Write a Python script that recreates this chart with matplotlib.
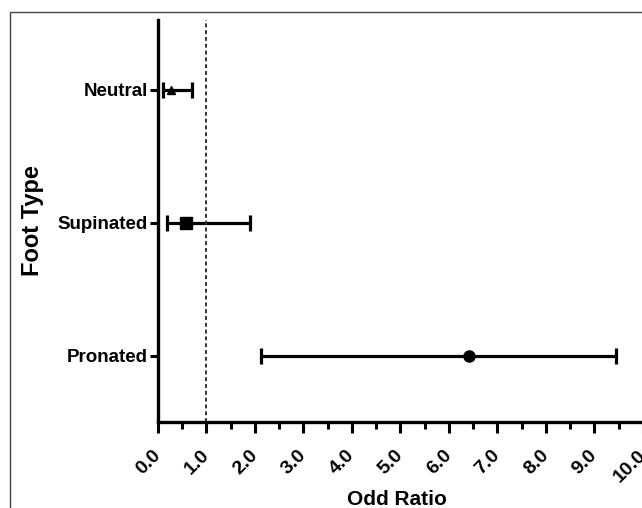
"""Forest plot of odds ratio by foot type."""

import matplotlib.pyplot as plt
from matplotlib.patches import Rectangle
from matplotlib.transforms import ScaledTranslation

plt.rcParams['font.family'] = ['Liberation Sans', 'DejaVu Sans']
plt.rcParams['font.weight'] = 'bold'

# data
foot_types = ["Neutral", "Supinated", "Pronated"]
odds_ratio = [0.26, 0.58, 6.41]
ci_low = [0.10, 0.19, 2.13]
ci_high = [0.71, 1.90, 9.45]
markers = ["^", "s", "o"]
marker_sizes = [6, 8, 8]
positions = [3, 2, 1]
x_ticks = [0, 1, 2, 3, 4, 5, 6, 7, 8, 9, 10]
x_minor = [0.5, 1.5, 2.5, 3.5, 4.5, 5.5, 6.5, 7.5, 8.5, 9.5]

fig = plt.figure(figsize=(6.42, 5.08), dpi=100)
ax = fig.add_axes([0.246, 0.1693, 0.7555, 0.792])

# outer frame of the original figure
fig.patches.append(Rectangle((10 / 642, -0.05), 1.2, 1 - 12 / 508 + 0.05,
                             transform=fig.transFigure, fill=False,
                             edgecolor="#444444", linewidth=1.0))

for y, m, lo, hi, mk, ms in zip(positions, odds_ratio, ci_low, ci_high,
                                markers, marker_sizes):
    ax.errorbar(m, y, xerr=[[m - lo], [hi - m]], fmt=mk, color="black",
                ecolor="black", elinewidth=2.3, capsize=6, capthick=2.3,
                markersize=ms, clip_on=False)

ax.axvline(1.0, color="#333333", linestyle=(0, (2, 1.5)), linewidth=1.4)

ax.set_xlim(0, 10)
ax.set_ylim(0.504, 3.526)
ax.set_yticks(positions)
ax.set_yticklabels(foot_types, fontsize=13.5)
ax.set_xticks(x_ticks)
ax.set_xticks(x_minor, minor=True)
ax.set_xticklabels([f"{float(v):.1f}" for v in x_ticks], rotation=45,
                   fontsize=14, rotation_mode="anchor", ha="right",
                   va="center")
shift = ScaledTranslation(9 / 100, 0, fig.dpi_scale_trans)
for lab in ax.get_xticklabels():
    lab.set_transform(lab.get_transform() + shift)

ax.tick_params(axis="x", which="major", length=8, width=2.2, direction="out", pad=14)
ax.tick_params(axis="x", which="minor", length=5, width=2.2, direction="out")
ax.tick_params(axis="y", length=6, width=2.2, direction="out", pad=1)

for side in ["top", "right"]:
    ax.spines[side].set_visible(False)
for side in ["left", "bottom"]:
    ax.spines[side].set_linewidth(2.4)

ax.set_xlabel("Odd Ratio", fontsize=15, fontweight="bold")
ax.xaxis.set_label_coords(0.5 - 4 / 485, -0.168)
ax.set_ylabel("Foot Type", fontsize=17, fontweight="bold", labelpad=10)

plt.savefig("out.png", dpi=100)
